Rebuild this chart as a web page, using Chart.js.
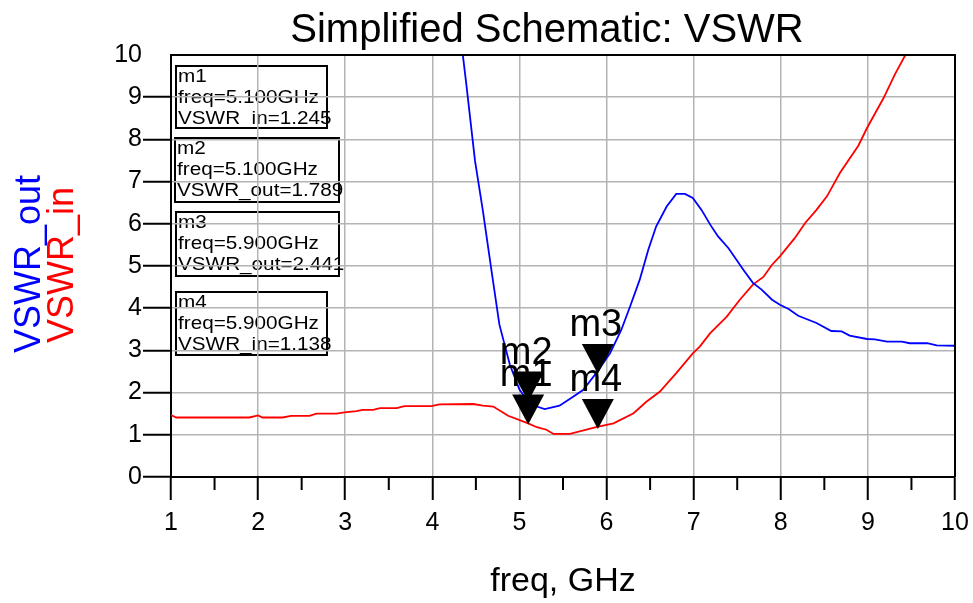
<!DOCTYPE html>
<html>
<head>
<meta charset="utf-8">
<script src="https://cdn.jsdelivr.net/npm/chart.js@4"></script>
<style>
  body { margin: 0; background: #fff; }
  #wrap { width: 973px; height: 603px; }
</style>
</head>
<body>
<div id="wrap"><canvas id="vswr" width="973" height="603"></canvas></div>
<script>
const FONT = '"Liberation Sans", Arial, sans-serif';

// VSWR_out (blue)
const freqOut = [4.2, 4.35, 4.39, 4.49, 4.58, 4.68, 4.77, 4.89, 5.0, 5.1, 5.2, 5.29, 5.46, 5.62, 5.73, 5.88,
  6.04, 6.17, 6.27, 6.38, 6.48, 6.57, 6.69, 6.8, 6.9, 6.99, 7.09, 7.19, 7.28, 7.4, 7.57, 7.68, 7.78,
  7.9, 7.99, 8.09, 8.2, 8.41, 8.58, 8.7, 8.79, 8.99, 9.08, 9.22, 9.39, 9.48, 9.68, 9.79, 10.0];
const vswrOut = [12.8, 10.0, 9.31, 7.49, 6.31, 4.88, 3.61, 2.66, 2.07, 1.79, 1.67, 1.61, 1.69, 1.91, 2.06, 2.46,
  2.93, 3.49, 4.04, 4.67, 5.39, 5.94, 6.41, 6.71, 6.71, 6.61, 6.33, 5.98, 5.70, 5.42, 4.91, 4.60, 4.44,
  4.20, 4.08, 3.98, 3.82, 3.65, 3.46, 3.45, 3.35, 3.27, 3.26, 3.21, 3.21, 3.17, 3.17, 3.12, 3.11];

// VSWR_in (red)
const freqIn = [1.0, 1.06, 1.9, 2.0, 2.05, 2.28, 2.38, 2.59, 2.67, 2.9, 2.99, 3.13, 3.2, 3.32, 3.4, 3.59, 3.68,
  3.99, 4.08, 4.47, 4.58, 4.7, 4.87, 5.1, 5.2, 5.31, 5.39, 5.58, 5.88, 6.08, 6.31, 6.46, 6.61, 6.8,
  6.99, 7.07, 7.19, 7.38, 7.53, 7.68, 7.8, 7.9, 7.99, 8.16, 8.28, 8.41, 8.53, 8.68, 8.89, 8.99, 9.18,
  9.31, 9.43, 9.6, 10.0];
const vswrIn = [1.47, 1.41, 1.41, 1.46, 1.41, 1.41, 1.45, 1.45, 1.50, 1.50, 1.53, 1.56, 1.59, 1.59, 1.63, 1.63, 1.68,
  1.68, 1.72, 1.73, 1.69, 1.67, 1.45, 1.27, 1.18, 1.12, 1.02, 1.02, 1.18, 1.27, 1.51, 1.79, 2.02, 2.46,
  2.93, 3.09, 3.41, 3.80, 4.20, 4.56, 4.74, 5.03, 5.23, 5.66, 6.02, 6.33, 6.65, 7.21, 7.85, 8.27, 8.98,
  9.54, 10.0, 10.8, 12.5];

const xTickValues = [1, 2, 3, 4, 5, 6, 7, 8, 9, 10];
const xMinorTicks = [1.5, 2.5, 3.5, 4.5, 5.5, 6.5, 7.5, 8.5, 9.5];
const yTickValues = [0, 1, 2, 3, 4, 5, 6, 7, 8, 9, 10];

const markerNames = ['m1', 'm2', 'm3', 'm4'];
const markerFreq = [5.1, 5.1, 5.9, 5.9];
const markerVals = [1.245, 1.789, 2.441, 1.138];
const markerVars = ['VSWR_in', 'VSWR_out', 'VSWR_out', 'VSWR_in'];

// readout boxes in the upper left corner
const boxes = [
  { x: 176, y: 66, w: 151, h: 62 },
  { x: 175, y: 138, w: 164, h: 64 },
  { x: 176, y: 212, w: 163, h: 64 },
  { x: 176, y: 292, w: 151, h: 63 }
];

const toPoints = (xs, ys) => xs.map((x, i) => ({ x: x, y: ys[i] }));

const adsDecor = {
  id: 'adsDecor',
  beforeDraw(chart) {
    const ctx = chart.ctx;
    ctx.save();
    ctx.fillStyle = '#fff';
    ctx.fillRect(0, 0, chart.width, chart.height);
    boxes.forEach((b, i) => {
      ctx.strokeStyle = '#000';
      ctx.lineWidth = 2;
      ctx.strokeRect(b.x, b.y, b.w, b.h);
      const lines = [
        markerNames[i],
        'freq=' + markerFreq[i].toFixed(3) + 'GHz',
        markerVars[i] + '=' + markerVals[i].toFixed(3)
      ];
      ctx.fillStyle = '#000';
      ctx.font = '18px ' + FONT;
      ctx.textAlign = 'left';
      ctx.textBaseline = 'alphabetic';
      lines.forEach((t, k) => {
        ctx.save();
        ctx.translate(b.x + 2, b.y + 16 + k * 21);
        ctx.scale(1.15, 1);
        ctx.fillText(t, 0, 0);
        ctx.restore();
      });
    });
    ctx.restore();
  },
  afterDraw(chart) {
    const ctx = chart.ctx;
    const area = chart.chartArea;
    const xs = chart.scales.x;
    const ys = chart.scales.y;
    ctx.save();

    // top and right frame
    ctx.strokeStyle = '#000';
    ctx.lineWidth = 2;
    ctx.beginPath();
    ctx.moveTo(area.left, area.top);
    ctx.lineTo(area.right, area.top);
    ctx.lineTo(area.right, area.bottom);
    ctx.stroke();

    // minor x ticks
    ctx.lineWidth = 2;
    xMinorTicks.forEach(v => {
      const px = xs.getPixelForValue(v);
      ctx.beginPath();
      ctx.moveTo(px, area.bottom);
      ctx.lineTo(px, area.bottom + 13);
      ctx.stroke();
    });

    // markers
    ctx.fillStyle = '#000';
    ctx.font = '38px ' + FONT;
    ctx.textAlign = 'center';
    ctx.textBaseline = 'alphabetic';
    markerNames.forEach((name, i) => {
      const px = xs.getPixelForValue(markerFreq[i]);
      const py = ys.getPixelForValue(markerVals[i]);
      ctx.beginPath();
      ctx.moveTo(px, py);
      ctx.lineTo(px - 16, py - 30);
      ctx.lineTo(px + 16, py - 30);
      ctx.closePath();
      ctx.fill();
      ctx.fillText(name, px - 2, py - 38);
    });

    // titles
    ctx.font = '40px ' + FONT;
    ctx.fillText('Simplified Schematic: VSWR', 547, 42);
    ctx.font = '34px ' + FONT;
    ctx.fillText('freq, GHz', (area.left + area.right) / 2, 591);

    ctx.font = '36px ' + FONT;
    ctx.save();
    ctx.translate(40, 264);
    ctx.rotate(-Math.PI / 2);
    ctx.fillStyle = '#0000ff';
    ctx.fillText('VSWR_out', 0, 0);
    ctx.restore();
    ctx.save();
    ctx.translate(73, 265);
    ctx.rotate(-Math.PI / 2);
    ctx.fillStyle = '#ff0000';
    ctx.fillText('VSWR_in', 0, 0);
    ctx.restore();

    ctx.restore();
  }
};

new Chart(document.getElementById('vswr'), {
  type: 'line',
  data: {
    datasets: [
      {
        label: 'VSWR_out',
        data: toPoints(freqOut, vswrOut),
        borderColor: '#0000ff',
        borderWidth: 1.8,
        pointRadius: 0,
        tension: 0
      },
      {
        label: 'VSWR_in',
        data: toPoints(freqIn, vswrIn),
        borderColor: '#ff0000',
        borderWidth: 1.8,
        pointRadius: 0,
        tension: 0
      }
    ]
  },
  options: {
    responsive: false,
    animation: false,
    layout: { padding: { left: 0, right: 18, top: 55, bottom: 0 } },
    plugins: {
      legend: { display: false },
      tooltip: { enabled: false }
    },
    scales: {
      x: {
        type: 'linear',
        min: 1,
        max: 10,
        afterFit: s => { s.height = 126; s.paddingLeft = 0; s.paddingRight = 0; },
        afterBuildTicks: s => { s.ticks = xTickValues.map(v => ({ value: v })); },
        grid: {
          color: c => (c.tick && c.tick.value > 1 && c.tick.value < 10) ? '#b4b4b4' : 'rgba(0,0,0,0)',
          lineWidth: 1.5,
          tickLength: 23,
          tickColor: '#000',
          tickWidth: 2
        },
        border: { color: '#000', width: 2 },
        ticks: {
          color: '#000',
          font: { family: FONT, size: 25 },
          padding: 8,
          maxRotation: 0
        }
      },
      y: {
        min: 0,
        max: 10,
        afterFit: s => { s.width = 171; s.paddingTop = 0; s.paddingBottom = 0; },
        afterBuildTicks: s => { s.ticks = yTickValues.map(v => ({ value: v })); },
        grid: {
          color: c => (c.tick && c.tick.value > 0 && c.tick.value < 10) ? '#b4b4b4' : 'rgba(0,0,0,0)',
          lineWidth: 1.5,
          tickLength: 28,
          tickColor: c => (c.tick && c.tick.value === 10) ? 'rgba(0,0,0,0)' : '#000',
          tickWidth: 2
        },
        border: { color: '#000', width: 2 },
        ticks: {
          color: '#000',
          font: { family: FONT, size: 25 },
          padding: 1
        }
      }
    }
  },
  plugins: [adsDecor]
});
</script>
</body>
</html>
